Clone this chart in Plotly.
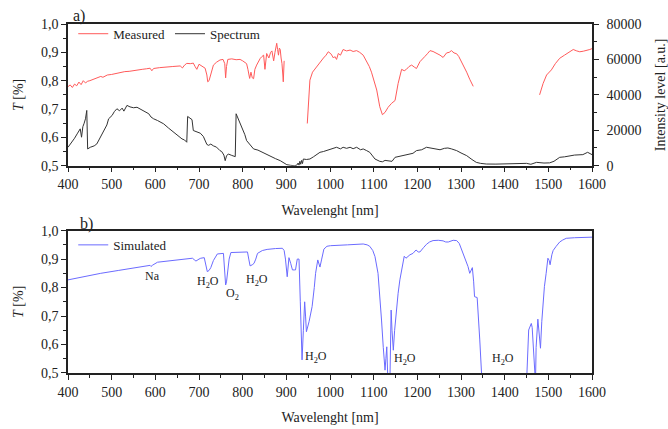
import plotly.graph_objects as go

# ---------------- data ----------------
# Panel a) measured transmittance (gaps = None)
meas_wl = [400, 405, 410, 415, 420, 425, 430, 435, 440, 445, 450, 460, 470, 475, 480, 490, 500, 510, 520, 530,
           540, 550, 560, 570, 580, 588, 592, 596, 610, 626, 640, 657, 662, 667, 672, 680, 687, 691, 695, 700,
           703, 708, 714, 718, 720, 723, 726, 730, 733, 740, 748, 755, 759, 761, 763, 766, 775, 785, 794, 800,
           805, 809, 812, 816, 819, 822, 825, 828, 832, 836, 840, 844, 848, 851, 853, 855, 860, 864, 867, 871,
           874, 878, 880, 882, 884, 886, 888, 890, 892, 893, 895, None,
           948, 951, 954, 960, 966, 972, 977, 985, 991, 996, 1002, 1008, 1011, 1015, 1019, 1024, 1030, 1038, 1046, 1053,
           1061, 1068, 1076, 1084, 1090, 1095, 1101, 1107, 1114, 1120, 1126, 1133, 1141, 1149, 1156, 1164, 1170, 1175,
           1181, 1187, 1193, 1198, 1206, 1212, 1217, 1223, 1229, 1236, 1244, 1252, 1259, 1263, 1267, 1273, 1278, 1284,
           1290, 1295, 1301, 1307, 1313, 1320, 1328, None,
           1480, 1488, 1496, 1507, 1516, 1526, 1537, 1547, 1557, 1565, 1572, 1580, 1587, 1595, 1600]
meas_T = [0.779, 0.785, 0.776, 0.788, 0.782, 0.795, 0.786, 0.800, 0.792, 0.798, 0.800, 0.805, 0.810, 0.815, 0.812,
          0.820, 0.822, 0.826, 0.828, 0.832, 0.833, 0.836, 0.838, 0.840, 0.842, 0.844, 0.835, 0.843, 0.846, 0.849,
          0.850, 0.852, 0.845, 0.855, 0.861, 0.860, 0.862, 0.850, 0.840, 0.858, 0.855, 0.850, 0.844, 0.820, 0.796,
          0.800, 0.815, 0.840, 0.855, 0.865, 0.873, 0.875, 0.860, 0.810, 0.850, 0.875, 0.877, 0.874, 0.875, 0.870,
          0.865, 0.860, 0.840, 0.808, 0.830, 0.810, 0.807, 0.840, 0.855, 0.870, 0.878, 0.885, 0.890, 0.840, 0.885,
          0.896, 0.880, 0.900, 0.905, 0.870, 0.900, 0.932, 0.910, 0.890, 0.915, 0.910, 0.880, 0.860, 0.820, 0.796,
          0.870, None,
          0.649, 0.740, 0.802, 0.830, 0.843, 0.855, 0.867, 0.880, 0.890, 0.902, 0.895, 0.880, 0.885, 0.875, 0.896,
          0.890, 0.910, 0.905, 0.908, 0.903, 0.906, 0.900, 0.890, 0.867, 0.850, 0.830, 0.800, 0.767, 0.708, 0.680,
          0.688, 0.706, 0.720, 0.730, 0.790, 0.840, 0.835, 0.840, 0.850, 0.855, 0.848, 0.843, 0.867, 0.875, 0.885,
          0.895, 0.906, 0.903, 0.897, 0.890, 0.882, 0.890, 0.898, 0.900, 0.906, 0.898, 0.895, 0.885, 0.867, 0.850,
          0.830, 0.805, 0.780, None,
          0.750, 0.790, 0.820, 0.838, 0.860, 0.879, 0.890, 0.900, 0.910, 0.905, 0.902, 0.904, 0.906, 0.910, 0.913]

# Panel a) source spectrum intensity (right axis)
spec_wl = [400, 409, 415, 421, 428, 431, 434, 437, 440, 443, 445, 451, 460, 466, 474, 480, 485, 489, 493, 501,
           506, 512, 518, 524, 528, 535, 542, 550, 558, 565, 575, 585, 590, 596, 605, 619, 630, 642, 652, 661,
           667, 672, 674, 680, 684, 687, 695, 703, 710, 714, 718, 722, 727, 733, 740, 748, 752, 757, 760, 763,
           767, 775, 783, 785, 790, 794, 800, 805, 809, 815, 820, 825, 835, 845, 855, 865, 875, 886, 895, 901,
           910, 918, 924, 927, 929, 931, 933, 935, 937, 939, 946, 954, 962, 970, 977, 985, 992, 1000, 1011, 1015,
           1024, 1030, 1038, 1046, 1053, 1061, 1070, 1076, 1084, 1091, 1096, 1103, 1114, 1120, 1126, 1137, 1142, 1149,
           1160, 1175, 1190, 1198, 1210, 1221, 1235, 1244, 1252, 1262, 1270, 1278, 1290, 1300, 1313, 1325, 1335, 1345,
           1358, 1380, 1404, 1420, 1435, 1450, 1460, 1473, 1490, 1503, 1513, 1526, 1537, 1549, 1560, 1579, 1590, 1600]
spec_I = [10400, 13240, 15500, 17970, 20800, 16080, 22000, 24000, 26480, 31200, 9460, 10400, 11200, 12290, 16080,
          18500, 20800, 23000, 26480, 28370, 30500, 32150, 31000, 32500, 30800, 34040, 33200, 32720, 33000, 32150,
          30800, 29310, 27500, 26480, 25500, 23640, 21300, 18910, 17000, 15130, 14500, 13240, 27800, 26500, 26000,
          19860, 19200, 18340, 16500, 14180, 12000, 11500, 12200, 11200, 10500, 8510, 8000, 6000, 2840, 5500,
          6620, 5800, 5110, 29310, 26500, 23640, 20000, 17500, 14180, 12500, 10500, 9460, 8800, 7500, 6240,
          5000, 4000, 2840, 1500, 570, 200, 0, 300, 1500, 300, 2500, 800, 3000, 1200, 3780,
          3500, 3780, 5000, 6200, 7560, 8000, 8500, 9460, 9800, 10400, 9500, 10400, 9800, 10400, 9600,
          10400, 9000, 9460, 8500, 7560, 6000, 3780, 2460, 2200, 3000, 2800, 2460, 4730, 5300, 6240,
          7000, 8510, 9000, 10400, 9800, 9460, 9000, 9800, 10000, 9500, 8510, 7200, 5670, 3500, 1890,
          1300, 945, 900, 945, 1100, 1000, 1320, 800, 1890, 1500, 1600, 2500, 4730, 5000, 5670,
          6000, 6240, 7560, 6240]

# Panel b) simulated transmittance
sim_wl = [400, 440, 475, 515, 552, 580, 588, 590, 594, 605, 630, 651, 670, 685, 689, 693, 700, 704, 712, 716,
          719, 723, 727, 733, 742, 756, 759, 761, 763, 765, 769, 773, 790, 811, 814, 817, 822, 826, 830, 834,
          845, 856, 875, 891, 895, 898, 902, 906, 910, 914, 918, 921, 925, 929, 932, 936, 939, 942, 944, 946,
          952, 959, 964, 967, 972, 975, 977, 981, 986, 993, 1001, 1040, 1076, 1085, 1091, 1098, 1103, 1110, 1114, 1118,
          1122, 1126, 1128, 1130, 1132, 1133, 1137, 1139, 1140, 1142, 1145, 1148, 1152, 1156, 1160, 1165, 1168, 1170,
          1174, 1183, 1190, 1197, 1202, 1206, 1214, 1221, 1228, 1236, 1248, 1259, 1265, 1271, 1282, 1290, 1296, 1305,
          1310, 1316, 1320, 1323, 1326, 1329, 1331, 1337, 1340, 1343, 1347, 1350, 1450, 1451, 1455, 1461, 1463, 1466,
          1469, 1470, 1471, 1472, 1476, 1479, 1482, 1485, 1488, 1491, 1495, 1499, 1502, 1504, 1508, 1511, 1518, 1526,
          1533, 1541, 1560, 1580, 1600]
sim_T = [0.827, 0.840, 0.850, 0.860, 0.868, 0.875, 0.878, 0.874, 0.879, 0.889, 0.893, 0.895, 0.900, 0.903, 0.898,
         0.893, 0.900, 0.903, 0.905, 0.880, 0.856, 0.860, 0.870, 0.895, 0.918, 0.920, 0.870, 0.809, 0.820, 0.850,
         0.900, 0.923, 0.925, 0.925, 0.900, 0.876, 0.880, 0.885, 0.900, 0.920, 0.930, 0.934, 0.937, 0.938, 0.930,
         0.900, 0.838, 0.905, 0.885, 0.862, 0.862, 0.862, 0.900, 0.900, 0.750, 0.546, 0.650, 0.750, 0.700, 0.645,
         0.680, 0.733, 0.800, 0.850, 0.897, 0.885, 0.872, 0.900, 0.935, 0.945, 0.947, 0.950, 0.953, 0.950, 0.945,
         0.930, 0.909, 0.850, 0.780, 0.686, 0.590, 0.510, 0.550, 0.592, 0.500, 0.450, 0.450, 0.600, 0.721, 0.650,
         0.580, 0.650, 0.720, 0.780, 0.827, 0.870, 0.897, 0.910, 0.903, 0.915, 0.920, 0.932, 0.925, 0.925, 0.940,
         0.952, 0.960, 0.965, 0.966, 0.964, 0.960, 0.960, 0.966, 0.965, 0.955, 0.920, 0.900, 0.874, 0.850, 0.860,
         0.870, 0.820, 0.768, 0.765, 0.700, 0.616, 0.500, 0.400, 0.400, 0.500, 0.651, 0.674, 0.660, 0.580, 0.500,
         0.480, 0.500, 0.590, 0.689, 0.620, 0.587, 0.680, 0.750, 0.803, 0.850, 0.903, 0.895, 0.880, 0.915, 0.930,
         0.945, 0.960, 0.967, 0.973, 0.975, 0.976, 0.977]

# Absorption labels in panel b)
label_text = ["Na", "H<sub>2</sub>O", "O<sub>2</sub>", "H<sub>2</sub>O", "H<sub>2</sub>O", "H<sub>2</sub>O", "H<sub>2</sub>O"]
label_wl = [594, 720, 777, 832, 967, 1171, 1397]
label_T = [0.842, 0.82, 0.777, 0.828, 0.555, 0.55, 0.55]

# ---------------- figure ----------------
FONT = "Liberation Serif"
AX = "#222222"

fig = go.Figure()
fig.add_trace(go.Scatter(x=meas_wl, y=meas_T, mode="lines", name="Measured",
                         line=dict(color="#ff5a5a", width=1), xaxis="x", yaxis="y",
                         legend="legend", connectgaps=False))
fig.add_trace(go.Scatter(x=spec_wl, y=spec_I, mode="lines", name="Spectrum",
                         line=dict(color="#333333", width=1), xaxis="x", yaxis="y2",
                         legend="legend"))
fig.add_trace(go.Scatter(x=sim_wl, y=sim_T, mode="lines", name="Simulated",
                         line=dict(color="#6b6bff", width=1), xaxis="x2", yaxis="y3",
                         legend="legend2"))

common_x = dict(range=[400, 1600], dtick=100, tick0=400, ticks="outside", ticklen=5, tickwidth=1.2,
                tickcolor=AX, showline=True, linecolor=AX, linewidth=1.5, mirror=True,
                showgrid=False, zeroline=False, tickfont=dict(size=14),
                minor=dict(dtick=50, ticks="outside", ticklen=3, tickcolor=AX, showgrid=False))
common_y = dict(range=[0.5, 1.0], dtick=0.1, tick0=0.5, tickformat=".1f", ticks="outside", ticklen=5,
                tickwidth=1.2, tickcolor=AX, showline=True, linecolor=AX, linewidth=1.5,
                showgrid=False, zeroline=False, tickfont=dict(size=14),
                minor=dict(dtick=0.05, ticks="outside", ticklen=3, tickcolor=AX, showgrid=False),
                title=dict(text="<i>T</i> [%]", font=dict(size=14), standoff=14))

fig.update_layout(
    width=668, height=429,
    margin=dict(l=68, r=76, t=24, b=56, autoexpand=False),
    paper_bgcolor="white", plot_bgcolor="white",
    font=dict(family=FONT, size=14, color=AX),
    separators=",.",
    xaxis=dict(common_x, domain=[0, 1], anchor="y",
               title=dict(text="Wavelenght [nm]", font=dict(size=14), standoff=14)),
    yaxis=dict(common_y, domain=[0.594, 1]),
    yaxis2=dict(range=[0, 80000], dtick=20000, tickformat="d", overlaying="y", side="right", anchor="x",
                ticks="outside", ticklen=5, tickwidth=1.2, tickcolor=AX, showline=True, linecolor=AX,
                linewidth=1.5, showgrid=False, zeroline=False, tickfont=dict(size=14), ticklabelstandoff=5,
                minor=dict(dtick=10000, ticks="outside", ticklen=3, tickcolor=AX, showgrid=False),
                title=dict(text="Intensity level [a.u.]", font=dict(size=14), standoff=16)),
    xaxis2=dict(common_x, domain=[0, 1], anchor="y3",
                title=dict(text="Wavelenght [nm]", font=dict(size=14), standoff=14)),
    yaxis3=dict(common_y, domain=[0, 0.408], anchor="x2", mirror=True),
    legend=dict(orientation="h", x=0.01, y=1.015, xanchor="left", yanchor="top",
                bgcolor="rgba(0,0,0,0)", font=dict(size=13), itemwidth=30, tracegroupgap=0),
    legend2=dict(orientation="h", x=0.01, y=0.41, xanchor="left", yanchor="top",
                 bgcolor="rgba(0,0,0,0)", font=dict(size=13), itemwidth=30),
    showlegend=True,
)

annotations = [
    dict(text="a)", xref="paper", yref="paper", x=0.005, y=0.99, xanchor="left", yanchor="bottom",
         showarrow=False, font=dict(size=16)),
    dict(text="b)", xref="paper", yref="paper", x=0.02, y=0.396, xanchor="left", yanchor="bottom",
         showarrow=False, font=dict(size=16)),
]
for t, xw, yt in zip(label_text, label_wl, label_T):
    annotations.append(dict(text=t, x=xw, y=yt, xref="x2", yref="y3", showarrow=False,
                            font=dict(size=12), xanchor="center", yanchor="middle"))
fig.update_layout(annotations=annotations)

fig.write_html("out.html", config={"displayModeBar": False},
               post_script="document.body.style.margin='0';document.body.style.padding='0';")
